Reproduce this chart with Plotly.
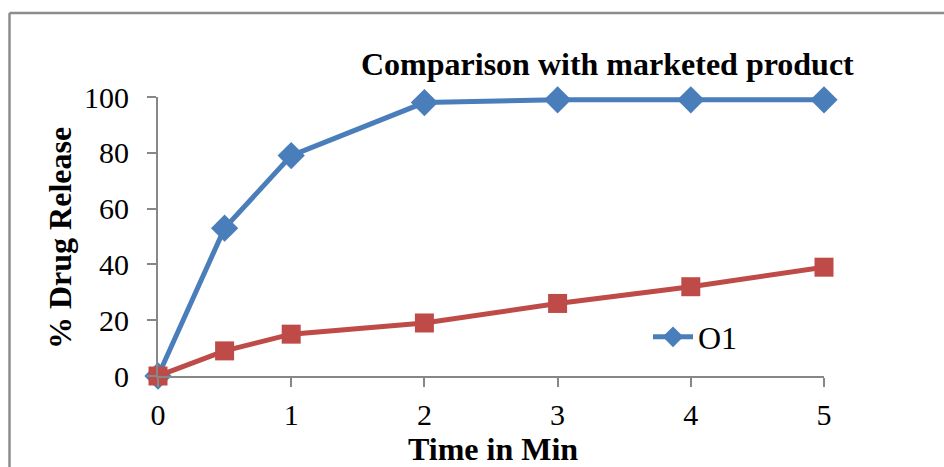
import plotly.graph_objects as go

# Dissolution data: time (min) vs % drug release
time_min = [0, 0.5, 1, 2, 3, 4, 5]
o1_release = [0, 53, 79, 98, 99, 99, 99]
marketed_release = [0, 9, 15, 19, 26, 32, 39]
x_ticks = [0, 1, 2, 3, 4, 5]
y_ticks = [0, 20, 40, 60, 80, 100]

W, H = 944, 467
L, R, T, B = 158, 120, 97, 91
pw, ph = W - L - R, H - T - B

FONT = "Liberation Serif, Times New Roman, serif"
AXIS_GREY = "#878787"
BLUE = "#4A7EBB"
RED = "#BE4B48"

fig = go.Figure()
fig.add_trace(go.Scatter(
    x=time_min, y=o1_release, mode="lines+markers", name="O1",
    line=dict(color=BLUE, width=5), marker=dict(symbol="diamond", size=21, color=BLUE),
    cliponaxis=False,
))
fig.add_trace(go.Scatter(
    x=time_min, y=marketed_release, mode="lines+markers", name="Marketed",
    line=dict(color=RED, width=5), marker=dict(symbol="square", size=19, color=RED),
    showlegend=False, cliponaxis=False,
))

def px_x(p):
    return (p - L) / pw

def px_y(p):
    return (H - B - p) / ph

# Chart border (top and left edges visible)
fig.add_shape(type="line", xref="paper", yref="paper",
              x0=px_x(9.5), x1=px_x(W + 5), y0=px_y(13), y1=px_y(13),
              line=dict(color="#8c8c8c", width=2.5))
fig.add_shape(type="line", xref="paper", yref="paper",
              x0=px_x(9.5), x1=px_x(9.5), y0=px_y(13), y1=px_y(H + 5),
              line=dict(color="#8c8c8c", width=2.5))

def label(text, cx, cy, angle=0):
    fig.add_annotation(text=text, xref="paper", yref="paper",
                       x=px_x(cx), y=px_y(cy), xanchor="center", yanchor="middle",
                       showarrow=False, textangle=angle,
                       font=dict(family=FONT, size=32, color="black"))

label("<b>Comparison with marketed product</b>", 607, 64)
label("<b>Time in Min</b>", 493, 449)
label("<b>% Drug Release</b>", 60, 238, -90)

fig.update_layout(
    width=W, height=H,
    margin=dict(l=L, r=R, t=T, b=B),
    paper_bgcolor="white", plot_bgcolor="white",
    font=dict(family=FONT, size=30, color="black"),
    legend=dict(x=px_x(648), y=px_y(337), xanchor="left", yanchor="middle",
                bgcolor="rgba(0,0,0,0)", font=dict(family=FONT, size=32),
                itemwidth=40),
    xaxis=dict(range=[0, 5], tickvals=x_ticks, showgrid=False, zeroline=False,
               showline=True, linecolor=AXIS_GREY, linewidth=2,
               ticks="outside", ticklen=9, tickwidth=2, tickcolor=AXIS_GREY,
               ticklabelstandoff=2),
    yaxis=dict(range=[0, 100], tickvals=y_ticks, showgrid=False, zeroline=False,
               showline=True, linecolor=AXIS_GREY, linewidth=2,
               ticks="outside", ticklen=9, tickwidth=2, tickcolor=AXIS_GREY,
               ticklabelstandoff=12),
)

fig.write_html("out.html")
